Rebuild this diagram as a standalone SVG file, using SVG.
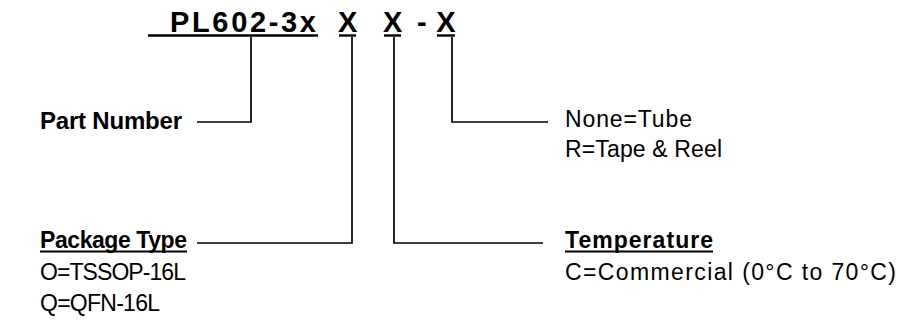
<svg xmlns="http://www.w3.org/2000/svg" width="912" height="326" viewBox="0 0 912 326">
<style>
text{font-family:"Liberation Sans",Arial,sans-serif;fill:#000}
.b{font-weight:bold}
.t{font-size:29px}
.l{font-size:24px}
.n{font-size:23px}
.ln{stroke:#000;stroke-width:1.7;fill:none}
.ul{stroke:#000;stroke-width:2.4}
.ul2{stroke:#000;stroke-width:1.8}
</style>
<rect width="912" height="326" fill="#fff"/>
<g id="title">
<text class="b t" x="170" y="32" textLength="146">PL602-3x</text>
<text class="b t" x="347.7" y="32" text-anchor="middle">X</text>
<text class="b t" x="392.7" y="32" text-anchor="middle">X</text>
<text class="b t" x="421.8" y="32" text-anchor="middle">-</text>
<text class="b t" x="446" y="32" text-anchor="middle">X</text>
<line class="ul" x1="148" y1="35.5" x2="318" y2="35.5"/>
<line class="ul" x1="339" y1="35.5" x2="356" y2="35.5"/>
<line class="ul" x1="384" y1="35.5" x2="401" y2="35.5"/>
<line class="ul" x1="437" y1="35.5" x2="455" y2="35.5"/>
</g>
<g id="connectors">
<path class="ln" d="M251,37 V122 H197"/>
<path class="ln" d="M352,37 V243 H197"/>
<path class="ln" d="M394,37 V243 H543"/>
<path class="ln" d="M452,37 V122 H548"/>
</g>
<g id="part-number">
<text class="b l" x="40" y="129" textLength="142">Part Number</text>
</g>
<g id="packing">
<text class="n" x="565" y="127" textLength="127">None=Tube</text>
<text class="n" x="565" y="157" textLength="157">R=Tape &amp; Reel</text>
</g>
<g id="package-type">
<text class="b n" x="40" y="248" textLength="147">Package Type</text>
<line class="ul2" x1="40" y1="251.5" x2="187" y2="251.5"/>
<text class="n" x="40" y="280" textLength="146">O=TSSOP-16L</text>
<text class="n" x="40" y="311" textLength="120">Q=QFN-16L</text>
</g>
<g id="temperature">
<text class="b n" x="565" y="248" textLength="148">Temperature</text>
<line class="ul2" x1="565" y1="251.5" x2="713" y2="251.5"/>
<text class="n" x="565" y="280" textLength="331">C=Commercial (0°C to 70°C)</text>
</g>
</svg>
